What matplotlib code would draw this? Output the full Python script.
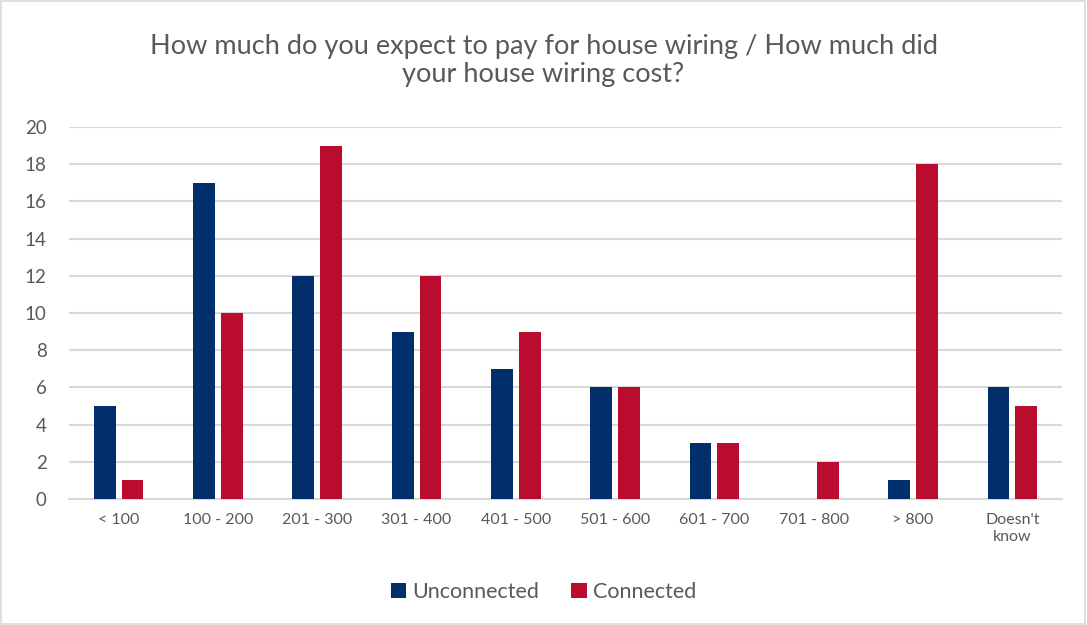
import numpy as np
import matplotlib.pyplot as plt
from matplotlib.patches import Rectangle

categories = ['< 100', '100 - 200', '201 - 300', '301 - 400', '401 - 500',
              '501 - 600', '601 - 700', '701 - 800', '> 800', "Doesn't\nknow"]
unconnected = [5, 17, 12, 9, 7, 6, 3, 0, 1, 6]
connected = [1, 10, 19, 12, 9, 6, 3, 2, 18, 5]

NAVY = '#002F6C'
RED = '#BA0C2F'
TEXT = '#595959'
GRID = '#D9D9D9'


def main():
    plt.rcParams['font.family'] = ['Lato', 'DejaVu Sans']
    fig = plt.figure(figsize=(10.87, 6.25), dpi=100)
    ax = fig.add_axes([0.0635, 0.2016, 0.9135, 0.5952])

    x = np.arange(len(categories))
    width = 0.22
    ax.bar(x - 0.14, unconnected, width, color=NAVY, label='Unconnected', zorder=3)
    ax.bar(x + 0.14, connected, width, color=RED, label='Connected', zorder=3)

    ax.set_xlim(-0.5, len(categories) - 0.5)
    ax.set_ylim(0, 20)
    ax.set_yticks(range(0, 21, 2))
    ax.set_xticks(x)
    ax.set_xticklabels(categories, fontsize=11.5, color=TEXT, linespacing=1.3)
    ax.tick_params(axis='y', labelsize=13.5, colors=TEXT, length=0, pad=16)
    ax.tick_params(axis='x', length=0, pad=10, colors=TEXT)

    ax.grid(axis='y', color=GRID, linewidth=1.5, zorder=0)
    for side in ['top', 'right', 'left']:
        ax.spines[side].set_visible(False)
    ax.spines['bottom'].set_color(GRID)
    ax.spines['bottom'].set_linewidth(1.5)

    fig.suptitle('How much do you expect to pay for house wiring / How much did\nyour house wiring cost?',
                 y=0.945, fontsize=19.5, color=TEXT, linespacing=1.15)

    fig.legend(loc='center', bbox_to_anchor=(0.5, 0.053), ncol=2, frameon=False,
               fontsize=15.5, labelcolor=TEXT, handlelength=0.7, handleheight=0.7,
               handletextpad=0.3, columnspacing=1.5)

    # light border round the whole chart
    fig.patches.append(Rectangle((0.001, 0.002), 0.997, 0.996, transform=fig.transFigure,
                                 fill=False, edgecolor=GRID, linewidth=1.2))

    fig.savefig('out.png', dpi=100)


if __name__ == '__main__':
    main()
